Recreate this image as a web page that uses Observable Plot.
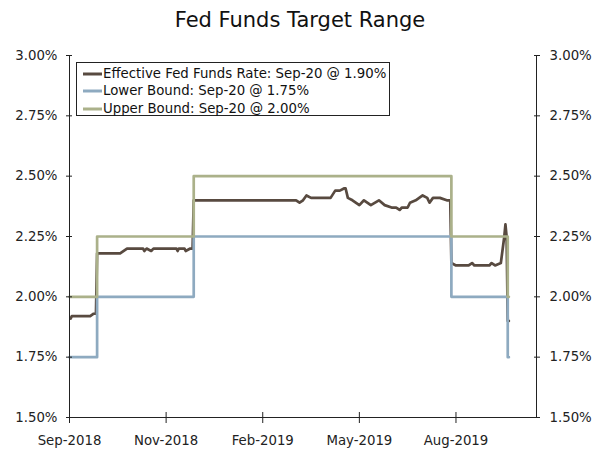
<!DOCTYPE html>
<html><head><meta charset="utf-8">
<script src="https://cdn.jsdelivr.net/npm/d3@7"></script>
<script src="https://cdn.jsdelivr.net/npm/@observablehq/plot@0.6"></script>
<style>
body{margin:0;background:#fff;font-family:"DejaVu Sans",Verdana,sans-serif;}
#wrap{position:relative;width:600px;height:452px;overflow:hidden;}
#title{height:40px;line-height:40px;text-align:center;font-size:21px;color:#111;}
#legend{position:absolute;left:76px;top:62px;width:312px;height:52px;border:1px solid #222;background:#fff;font-size:13.3px;color:#111;}
.row{position:absolute;left:6px;height:17px;display:flex;align-items:center;white-space:nowrap;}
.row svg{margin-right:1px;}
</style></head><body>
<div id="wrap"><div id="title">Fed Funds Target Range</div><div id="chart"></div><div id="legend"></div></div>
<script>
const effrDates = ["2018-09-04","2018-09-05","2018-09-21","2018-09-24","2018-09-26","2018-09-27","2018-10-17","2018-10-23","2018-11-06","2018-11-07","2018-11-09","2018-11-13","2018-11-15","2018-12-05","2018-12-06","2018-12-07","2018-12-12","2018-12-13","2018-12-17","2018-12-19","2018-12-20","2019-03-19","2019-03-22","2019-03-25","2019-03-28","2019-04-01","2019-04-18","2019-04-22","2019-04-26","2019-04-30","2019-05-01","2019-05-03","2019-05-07","2019-05-13","2019-05-17","2019-05-23","2019-05-30","2019-06-04","2019-06-10","2019-06-14","2019-06-17","2019-06-19","2019-06-24","2019-06-26","2019-07-01","2019-07-07","2019-07-11","2019-07-13","2019-07-16","2019-07-22","2019-07-28","2019-07-31","2019-08-01","2019-08-05","2019-08-16","2019-08-19","2019-08-21","2019-08-28","2019-08-30","2019-09-03","2019-09-05","2019-09-08","2019-09-13","2019-09-16","2019-09-17","2019-09-18","2019-09-19","2019-09-20"];
const effrValues = [1.91,1.92,1.92,1.93,1.93,2.18,2.18,2.20,2.20,2.19,2.20,2.19,2.20,2.20,2.19,2.20,2.20,2.19,2.20,2.20,2.40,2.40,2.39,2.40,2.42,2.41,2.41,2.44,2.44,2.45,2.45,2.41,2.40,2.38,2.40,2.38,2.40,2.38,2.37,2.37,2.36,2.37,2.37,2.39,2.40,2.42,2.41,2.39,2.41,2.41,2.40,2.40,2.14,2.13,2.13,2.14,2.13,2.13,2.13,2.13,2.14,2.13,2.14,2.25,2.30,2.25,1.90,1.90];
const boundDates = ["2018-09-03","2018-09-27","2018-12-20","2019-08-01","2019-09-19","2019-09-20"];
const lowerValues = [1.75,2.00,2.25,2.00,1.75,1.75];
const upperValues = [2.00,2.25,2.50,2.25,2.00,2.00];
const yTicks = [1.5,1.75,2.0,2.25,2.5,2.75,3.0];
const xTickDates = ["2018-09-03","2018-11-26","2019-02-18","2019-05-13","2019-08-05"];
const xDomainDates = ["2018-09-03","2019-10-14"];
const seriesNames = ["Effective Fed Funds Rate: Sep-20 @ 1.90%","Lower Bound: Sep-20 @ 1.75%","Upper Bound: Sep-20 @ 2.00%"];

const colors = ["#584a40","#8eaac0","#abb18a"];
const axisColor = "#222";
const parse = d3.utcParse("%Y-%m-%d");
const effr = effrDates.map((d,i)=>({date:parse(d), value:effrValues[i]}));
const bounds = boundDates.map((d,i)=>({date:parse(d), lower:lowerValues[i], upper:upperValues[i]}));
const xDomain = xDomainDates.map(parse);
const xTicks = xTickDates.map(parse);
const fmtPct = d => d.toFixed(2) + "%";
const fmtDate = d3.utcFormat("%b-%Y");

const chart = Plot.plot({
  width:600, height:412,
  marginTop:15, marginBottom:35, marginLeft:69, marginRight:64,
  style:{fontFamily:"DejaVu Sans, Verdana, sans-serif", fontSize:"13.3px", color:axisColor, background:"#fff"},
  x:{type:"utc", domain:xDomain},
  y:{domain:[1.5,3.0]},
  marks:[
    Plot.line(effr,{x:"date",y:"value",stroke:colors[0],strokeWidth:2.7}),
    Plot.line(bounds,{x:"date",y:"lower",stroke:colors[1],strokeWidth:2.7,curve:"step-after"}),
    Plot.line(bounds,{x:"date",y:"upper",stroke:colors[2],strokeWidth:2.7,curve:"step-after"}),
    Plot.ruleX(xDomain,{stroke:axisColor,strokeWidth:1}),
    Plot.ruleY([1.5],{stroke:axisColor,strokeWidth:1}),
    Plot.axisY(yTicks,{anchor:"left",tickSize:6,dx:3,fill:"none",stroke:axisColor,label:null}),
    Plot.axisY(yTicks,{anchor:"left",tickSize:0,tickPadding:12,tickFormat:fmtPct,stroke:"none",fill:axisColor,label:null}),
    Plot.axisY(yTicks,{anchor:"right",tickSize:6,dx:-3,fill:"none",stroke:axisColor,label:null}),
    Plot.axisY(yTicks,{anchor:"right",tickSize:0,tickPadding:13,tickFormat:fmtPct,stroke:"none",fill:axisColor,label:null}),
    Plot.axisX(xTicks,{anchor:"bottom",tickSize:11,dy:-5,fill:"none",stroke:axisColor,label:null}),
    Plot.axisX(xTicks,{anchor:"bottom",tickSize:0,tickPadding:18,tickFormat:fmtDate,stroke:"none",fill:axisColor,label:null})
  ]
});
document.getElementById("chart").appendChild(chart);

const legend = document.getElementById("legend");
const rowTops = [2,19,37];
seriesNames.forEach((name,i)=>{
  const row = document.createElement("div");
  row.className = "row";
  row.style.top = rowTops[i] + "px";
  row.innerHTML = `<svg width="19" height="6"><line x1="0" x2="19" y1="3" y2="3" stroke="${colors[i]}" stroke-width="3"/></svg><span>${name}</span>`;
  legend.appendChild(row);
});
</script>
</body></html>
